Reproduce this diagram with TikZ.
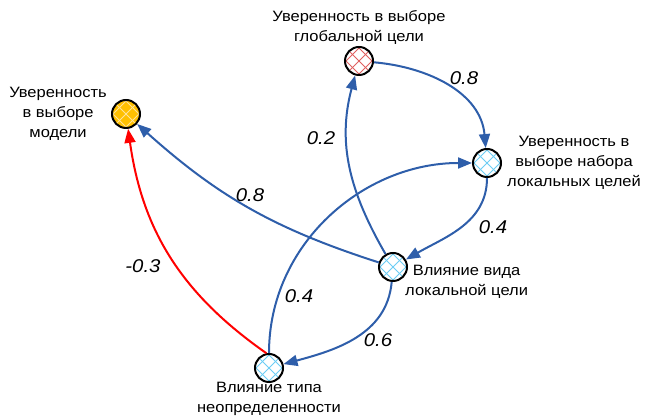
\documentclass[tikz,border=0pt]{standalone}
\usepackage{fontspec}
\setmainfont[FakeStretch=1.1]{Liberation Sans}
\usetikzlibrary{arrows.meta,positioning}
\definecolor{LinkBlue}{HTML}{2E5EAA}
\definecolor{LinkRed}{HTML}{FF0000}
\definecolor{ModelGold}{HTML}{FFC000}
\definecolor{HatchGold}{HTML}{FFE39A}
\definecolor{HatchRed}{HTML}{E06060}
\definecolor{HatchSky}{HTML}{6CCDF5}
\tikzset{
  factor/.style={circle, draw=black, line width=2pt, minimum size=28pt,
    inner sep=0pt, fill=white,
    path picture={
      \foreach \k in {-26,-13,0,13,26} {
        \draw[draw=#1, line width=1pt]
          ([shift={({\k*1pt-20pt},-20pt)}]path picture bounding box.center) -- ++(40pt,40pt);
        \draw[draw=#1, line width=1pt]
          ([shift={({\k*1pt-20pt},20pt)}]path picture bounding box.center) -- ++(40pt,-40pt);
      }}},
  caption/.style={align=center, inner sep=1pt, font=\fontsize{15}{20}\selectfont},
  weight/.style={inner sep=1pt, font=\fontsize{18.5}{20}\selectfont\itshape},
  wire/.style={-{Triangle[length=14pt,width=11pt]}, line width=2pt, draw=LinkBlue},
  redwire/.style={wire, draw=LinkRed}
}
\begin{document}
\begin{tikzpicture}[x=1pt, y=1pt]
  \useasboundingbox (0,0) rectangle (645,419);
  % factors
  \node[factor=HatchGold, fill=ModelGold] (model) at (126,305) {};
  \node[factor=HatchRed] (glob) at (359,358) {};
  \node[factor=HatchSky] (locset) at (487,256) {};
  \node[factor=HatchSky] (vid) at (393,152) {};
  \node[factor=HatchSky] (unc) at (269,51) {};
  % captions
  \node[caption, left=3pt of model] (modeltext) {Уверенность\\в выборе\\модели};
  \node[caption, above=0pt of glob] (globtext) {Уверенность в выборе\\глобальной цели};
  \node[caption, right=4pt of locset] (locsettext) {Уверенность в\\выборе набора\\локальных целей};
  \node[caption, anchor=north west] (vidtext) at ([shift={(-4,3)}]vid.east) {Влияние вида\\локальной цели};
  \node[caption, below=-2pt of unc] (unctext) {Влияние типа\\неопределенности};
  % links
  \draw[wire] (glob) to[out=-5, in=95] (locset);
  \draw[wire] (locset) to[out=-90, in=30] (vid);
  \draw[wire] (vid) to[out=120, in=-105] (glob);
  \draw[wire] (vid) to[bend left=12] (model);
  \draw[wire] (vid) to[out=-95, in=15] (unc);
  \draw[wire] (unc) to[out=90, in=180] (locset);
  \draw[redwire] (unc.100) to[out=145, in=-82] (model);
  % weights
  \node[weight] (wglob) at (464,341) {0.8};
  \node[weight] (wvidglob) at (321,281) {0.2};
  \node[weight] (wvidmodel) at (250,224) {0.8};
  \node[weight] (wlocset) at (493,192) {0.4};
  \node[weight] (wuncmodel) at (143,153) {-0.3};
  \node[weight] (wunclocset) at (299,123) {0.4};
  \node[weight] (wvidunc) at (378,79) {0.6};
\end{tikzpicture}
\end{document}
